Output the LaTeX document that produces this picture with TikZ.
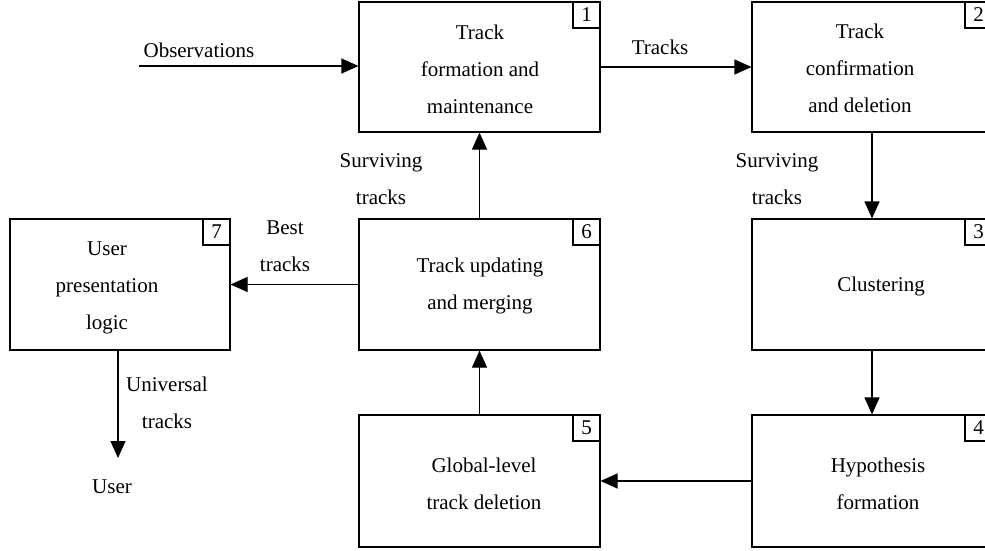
\documentclass[tikz,border=0pt]{standalone}
\usepackage{fontspec}
\setmainfont{Liberation Serif}
\usetikzlibrary{arrows.meta,positioning,calc}

\begin{document}
\begin{tikzpicture}[x=1pt, y=-1pt, font=\fontsize{21}{37}\selectfont,
    blk/.style={rectangle, draw, line width=1.1pt, inner sep=0pt,
      minimum width=241pt, minimum height=130pt},
    num/.style={rectangle, draw, line width=1.1pt, inner sep=0pt,
      minimum width=27pt, minimum height=26pt, anchor=north east},
    txt/.style={align=center, inner sep=0pt},
    fl/.style={-{Triangle[length=17pt, width=15pt]}, line width=1.1pt}]
    \useasboundingbox (0,0) rectangle (985,551);
    % the seven blocks
    \node[blk] (form) at (479.5,67) {};
    \node[blk, minimum width=240pt] (conf) at (872,67) {};
    \node[blk, minimum width=240pt, minimum height=131pt] (clus) at (872,284.5) {};
    \node[blk, minimum width=240pt, minimum height=132pt] (hyp) at (872,481) {};
    \node[blk, minimum height=132pt] (glob) at (479.5,481) {};
    \node[blk, minimum height=131pt] (upd) at (479.5,284.5) {};
    \node[blk, minimum width=220pt, minimum height=131pt] (usr) at (120,284.5) {};
    \node[num] (n1) at (form.north east) {1};
    \node[num] (n2) at (conf.north east) {2};
    \node[num] (n3) at (clus.north east) {3};
    \node[num] (n4) at (hyp.north east) {4};
    \node[num] (n5) at (glob.north east) {5};
    \node[num] (n6) at (upd.north east) {6};
    \node[num] (n7) at (usr.north east) {7};
    \node[txt] (tform) at (480,69) {Track\\formation and\\maintenance};
    \node[txt] (tconf) at (860,68) {Track\\confirmation\\and deletion};
    \node[txt] (tclus) at (881,286) {Clustering};
    \node[txt] (thyp) at (878,484) {Hypothesis\\formation};
    \node[txt] (tglob) at (484,484) {Global-level\\track deletion};
    \node[txt] (tupd) at (480,286) {Track updating\\and merging};
    \node[txt] (tusr) at (107,288) {User\\presentation\\logic};
    % connector labels
    \node[txt] (lobs) at (199,50) {Observations};
    \node[txt] (ltrk) at (660,47) {Tracks};
    \node[txt] (lsur1) at (777,179) {Surviving\\tracks};
    \node[txt] (lsur2) at (381,179) {Surviving\\tracks};
    \node[txt] (lbest) at (285,246) {Best\\tracks};
    \node[txt] (luni) at (167,403) {Universal\\tracks};
    \node[txt] (luser) at (112,487) {User};
    \coordinate (obs) at (139,66);
    \coordinate (utip) at (118,458);
    \draw[fl] (obs) -- (obs -| form.west);
    \draw[fl] (form.east) -- (form.east -| conf.west);
    \draw[fl] (conf.south) -- (clus.north);
    \draw[fl] (clus.south) -- (hyp.north);
    \draw[fl] (hyp.west) -- (glob.east);
    \draw[fl] (glob.north) -- (upd.south);
    \draw[fl] (upd.north) -- (form.south);
    \draw[fl] (upd.west) -- (usr.east);
    \draw[fl] (usr.south -| utip) -- (utip);
  \end{tikzpicture}
\end{document}
